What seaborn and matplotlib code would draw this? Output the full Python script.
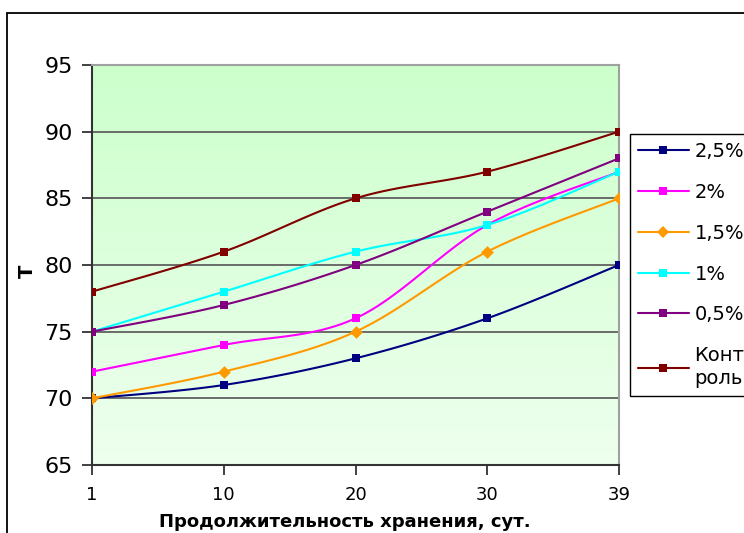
import numpy as np
import pandas as pd
import matplotlib
matplotlib.use("Agg")
import matplotlib.pyplot as plt
from matplotlib.lines import Line2D
from matplotlib.patches import Rectangle
from matplotlib.colors import LinearSegmentedColormap
import seaborn as sns

# ---- data ----
days = ["1", "10", "20", "30", "39"]
series_names = ["2,5%", "2%", "1,5%", "1%", "0,5%", "Конт\nроль"]
s_25 = [70, 71, 73, 76, 80]
s_20 = [72, 74, 76, 83, 87]
s_15 = [70, 72, 75, 81, 85]
s_10 = [75, 78, 81, 83, 87]
s_05 = [75, 77, 80, 84, 88]
s_ctrl = [78, 81, 85, 87, 90]
y_ticks = [65, 70, 75, 80, 85, 90, 95]

values = [s_25, s_20, s_15, s_10, s_05, s_ctrl]
colors = ["#000080", "#FF00FF", "#FF9900", "#00FFFF", "#800080", "#800000"]
markers = ["s", "s", "D", "s", "s", "s"]


def smooth(xs, ys, n=30):
    """Excel-like Catmull-Rom Bezier smoothing."""
    P = np.column_stack([xs, ys]).astype(float)
    out = []
    m = len(P)
    for i in range(m - 1):
        p0 = P[i - 1] if i > 0 else P[i]
        p1 = P[i]
        p2 = P[i + 1]
        p3 = P[i + 2] if i + 2 < m else P[i + 1]
        c1 = p1 + (p2 - p0) / 6.0
        c2 = p2 - (p3 - p1) / 6.0
        t = np.linspace(0, 1, n, endpoint=(i == m - 2))[:, None]
        b = ((1 - t) ** 3) * p1 + 3 * ((1 - t) ** 2) * t * c1 + 3 * (1 - t) * t ** 2 * c2 + t ** 3 * p2
        out.append(b)
    out = np.vstack(out)
    return out[:, 0], out[:, 1]


sns.set_theme(style="white")
plt.rcParams["font.family"] = ["DejaVu Sans"]
plt.rcParams["text.color"] = "black"
plt.rcParams["axes.labelcolor"] = "black"
plt.rcParams["xtick.labelcolor"] = "black"
plt.rcParams["ytick.labelcolor"] = "black"

fig = plt.figure(figsize=(7.44, 5.33), dpi=100)
W, H = 744, 533
ax = fig.add_axes([92 / W, 1 - 465 / H, (619 - 92) / W, (465 - 65) / H])

# gradient background
cmap = LinearSegmentedColormap.from_list("g", ["#EEFFEE", "#CCFFCC"])
xpos = np.arange(len(days))
ax.imshow(np.linspace(0, 1, 256)[:, None], extent=[0, len(days) - 1, 65, 95],
          origin="lower", aspect="auto", cmap=cmap, zorder=0)

for yt in y_ticks[1:-1]:
    ax.axhline(yt, color="#606060", lw=1.3, zorder=1)

for vals, c, mk in zip(values, colors, markers):
    xs, ys = smooth(xpos, vals)
    sns.lineplot(x=xs, y=ys, color=c, lw=1.5, ax=ax, sort=False, estimator=None, zorder=3)
    sns.scatterplot(x=xpos, y=vals, marker=mk, color=c, s=36 if mk == "s" else 42,
                    edgecolor=c, linewidth=0, ax=ax, zorder=4)

ax.set_xlim(0, len(days) - 1)
ax.set_ylim(65, 95)
ax.set_xticks(xpos)
ax.set_xticklabels(days, fontsize=13)
ax.set_yticks(y_ticks)
ax.set_yticklabels([str(v) for v in y_ticks], fontsize=16)
ax.tick_params(axis="both", direction="out", length=7, width=1.3, color="#333333",
               labelcolor="black", left=True, bottom=True)
ax.tick_params(axis="y", pad=7)
ax.tick_params(axis="x", pad=8)
for s in ["left", "bottom"]:
    ax.spines[s].set_color("#333333")
    ax.spines[s].set_linewidth(1.5)
for s in ["top", "right"]:
    ax.spines[s].set_color("#A0A0A0")
    ax.spines[s].set_linewidth(1.5)

ax.set_xlabel("Продолжительность хранения, сут.", fontsize=13, fontweight="bold", color="black")
ax.xaxis.set_label_coords((345 - 92) / 527, -(513 - 465) / 400)
ax.set_ylabel("Т", fontsize=14, fontweight="bold", color="black")
ax.yaxis.set_label_coords(-(92 - 37) / 527, 0.485)

handles = [Line2D([], [], color=c, marker=m, markersize=6 if m == "s" else 6.5,
                  markeredgewidth=0, lw=1.5) for c, m in zip(colors, markers)]
leg = fig.legend(handles, series_names, loc="upper left",
                 bbox_to_anchor=(630 / W, 1 - 134 / H), fontsize=14,
                 frameon=True, fancybox=False, shadow=False, framealpha=1,
                 edgecolor="black", handlelength=2.6, handletextpad=0.3,
                 labelspacing=1.12, borderpad=0.42, borderaxespad=0,
                 labelcolor="black")
leg.get_frame().set_linewidth(1.0)
for t in leg.get_texts():
    t.set_linespacing(1.25)

# figure border
fig.patches.append(Rectangle((7 / W, -0.1), 1.2, 1 - 13 / H + 0.1, transform=fig.transFigure,
                             fill=False, edgecolor="black", lw=1.3))

fig.savefig("out.png", dpi=100)
